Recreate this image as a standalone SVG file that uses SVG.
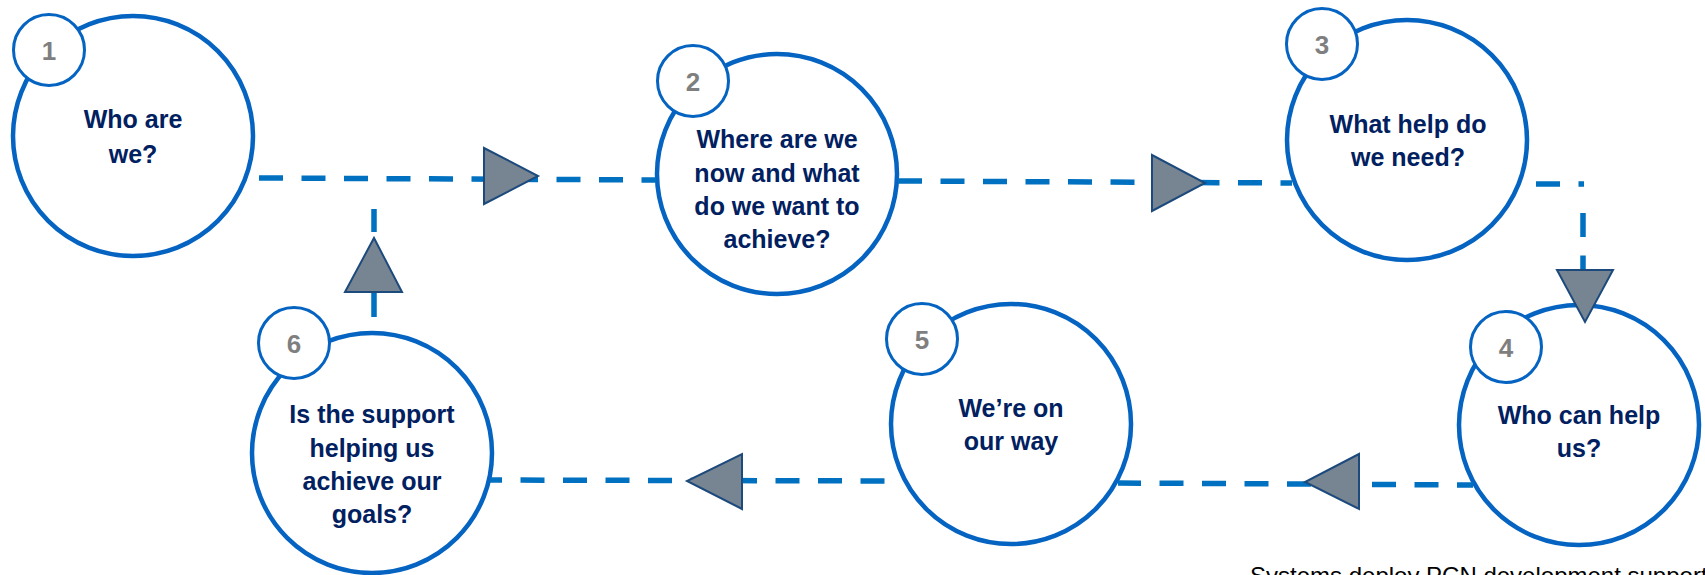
<svg xmlns="http://www.w3.org/2000/svg" width="1705" height="575" viewBox="0 0 1705 575">
<style>
.big{fill:#fff;stroke:#0563C1;stroke-width:4.5}
.num{fill:#fff;stroke:#0563C1;stroke-width:3}
.lbl{font-family:"Liberation Sans",Arial,sans-serif;font-weight:bold;font-size:25px;fill:#002060;text-anchor:middle}
.n{font-family:"Liberation Sans",Arial,sans-serif;font-weight:bold;font-size:26px;fill:#7F7F7F;text-anchor:middle}
.dash{fill:none;stroke:#0070C0;stroke-width:5.5;stroke-dasharray:24 18.5}
.tri{fill:#778592;stroke:#1D4A7C;stroke-width:2;stroke-linejoin:miter}
.foot{font-family:"Liberation Sans",Arial,sans-serif;font-size:24px;fill:#000}
</style>
<rect width="1705" height="575" fill="#fff"/>
<g id="node1">
<circle class="big" cx="133" cy="136" r="120"/>
<circle class="num" cx="49" cy="50" r="35.5"/>
<text class="n" x="49" y="60">1</text>
<text class="lbl" x="133" y="128">Who are</text>
<text class="lbl" x="133" y="163">we?</text>
</g>
<g id="node2">
<circle class="big" cx="777" cy="174" r="120"/>
<circle class="num" cx="693" cy="81" r="35.5"/>
<text class="n" x="693" y="91">2</text>
<text class="lbl" x="777" y="148">Where are we</text>
<text class="lbl" x="777" y="182">now and what</text>
<text class="lbl" x="777" y="215">do we want to</text>
<text class="lbl" x="777" y="248">achieve?</text>
</g>
<g id="node3">
<circle class="big" cx="1407" cy="140" r="120"/>
<circle class="num" cx="1322" cy="44" r="35.5"/>
<text class="n" x="1322" y="54">3</text>
<text class="lbl" x="1408" y="133">What help do</text>
<text class="lbl" x="1408" y="166">we need?</text>
</g>
<g id="node4">
<circle class="big" cx="1579" cy="425" r="120"/>
<circle class="num" cx="1506" cy="347" r="35.5"/>
<text class="n" x="1506" y="357">4</text>
<text class="lbl" x="1579" y="424">Who can help</text>
<text class="lbl" x="1579" y="457">us?</text>
</g>
<g id="node5">
<circle class="big" cx="1011" cy="424" r="120"/>
<circle class="num" cx="922" cy="339" r="35.5"/>
<text class="n" x="922" y="349">5</text>
<text class="lbl" x="1011" y="417">We’re on</text>
<text class="lbl" x="1011" y="450">our way</text>
</g>
<g id="node6">
<circle class="big" cx="372" cy="453" r="120"/>
<circle class="num" cx="294" cy="343" r="35.5"/>
<text class="n" x="294" y="353">6</text>
<text class="lbl" x="372" y="423">Is the support</text>
<text class="lbl" x="372" y="457">helping us</text>
<text class="lbl" x="372" y="490">achieve our</text>
<text class="lbl" x="372" y="523">goals?</text>
</g>
<g id="connectors">
<path class="dash" d="M259,178 L656,180"/>
<polygon class="tri" points="484,148 484,204 538,176"/>
<path class="dash" d="M898,181 L1292,183"/>
<polygon class="tri" points="1152,155 1152,211 1205,183"/>
<path class="dash" d="M1521,184 H1584" stroke-dashoffset="27.5"/>
<path class="dash" d="M1583,213 V272"/>
<polygon class="tri" points="1557,270 1613,270 1585,322"/>
<path class="dash" d="M1473,485 L1118,483" stroke-dashoffset="8"/>
<polygon class="tri" points="1359,454 1359,509 1305,482"/>
<path class="dash" d="M903,481 L490,480" stroke-dashoffset="24"/>
<polygon class="tri" points="742,454 742,509 687,481"/>
<path class="dash" d="M374,332 V209" stroke-dashoffset="27.5"/>
<polygon class="tri" points="345,292 402,292 374,238"/>
</g>
<text class="foot" x="1250" y="584">Systems deploy PCN development support</text>
</svg>
